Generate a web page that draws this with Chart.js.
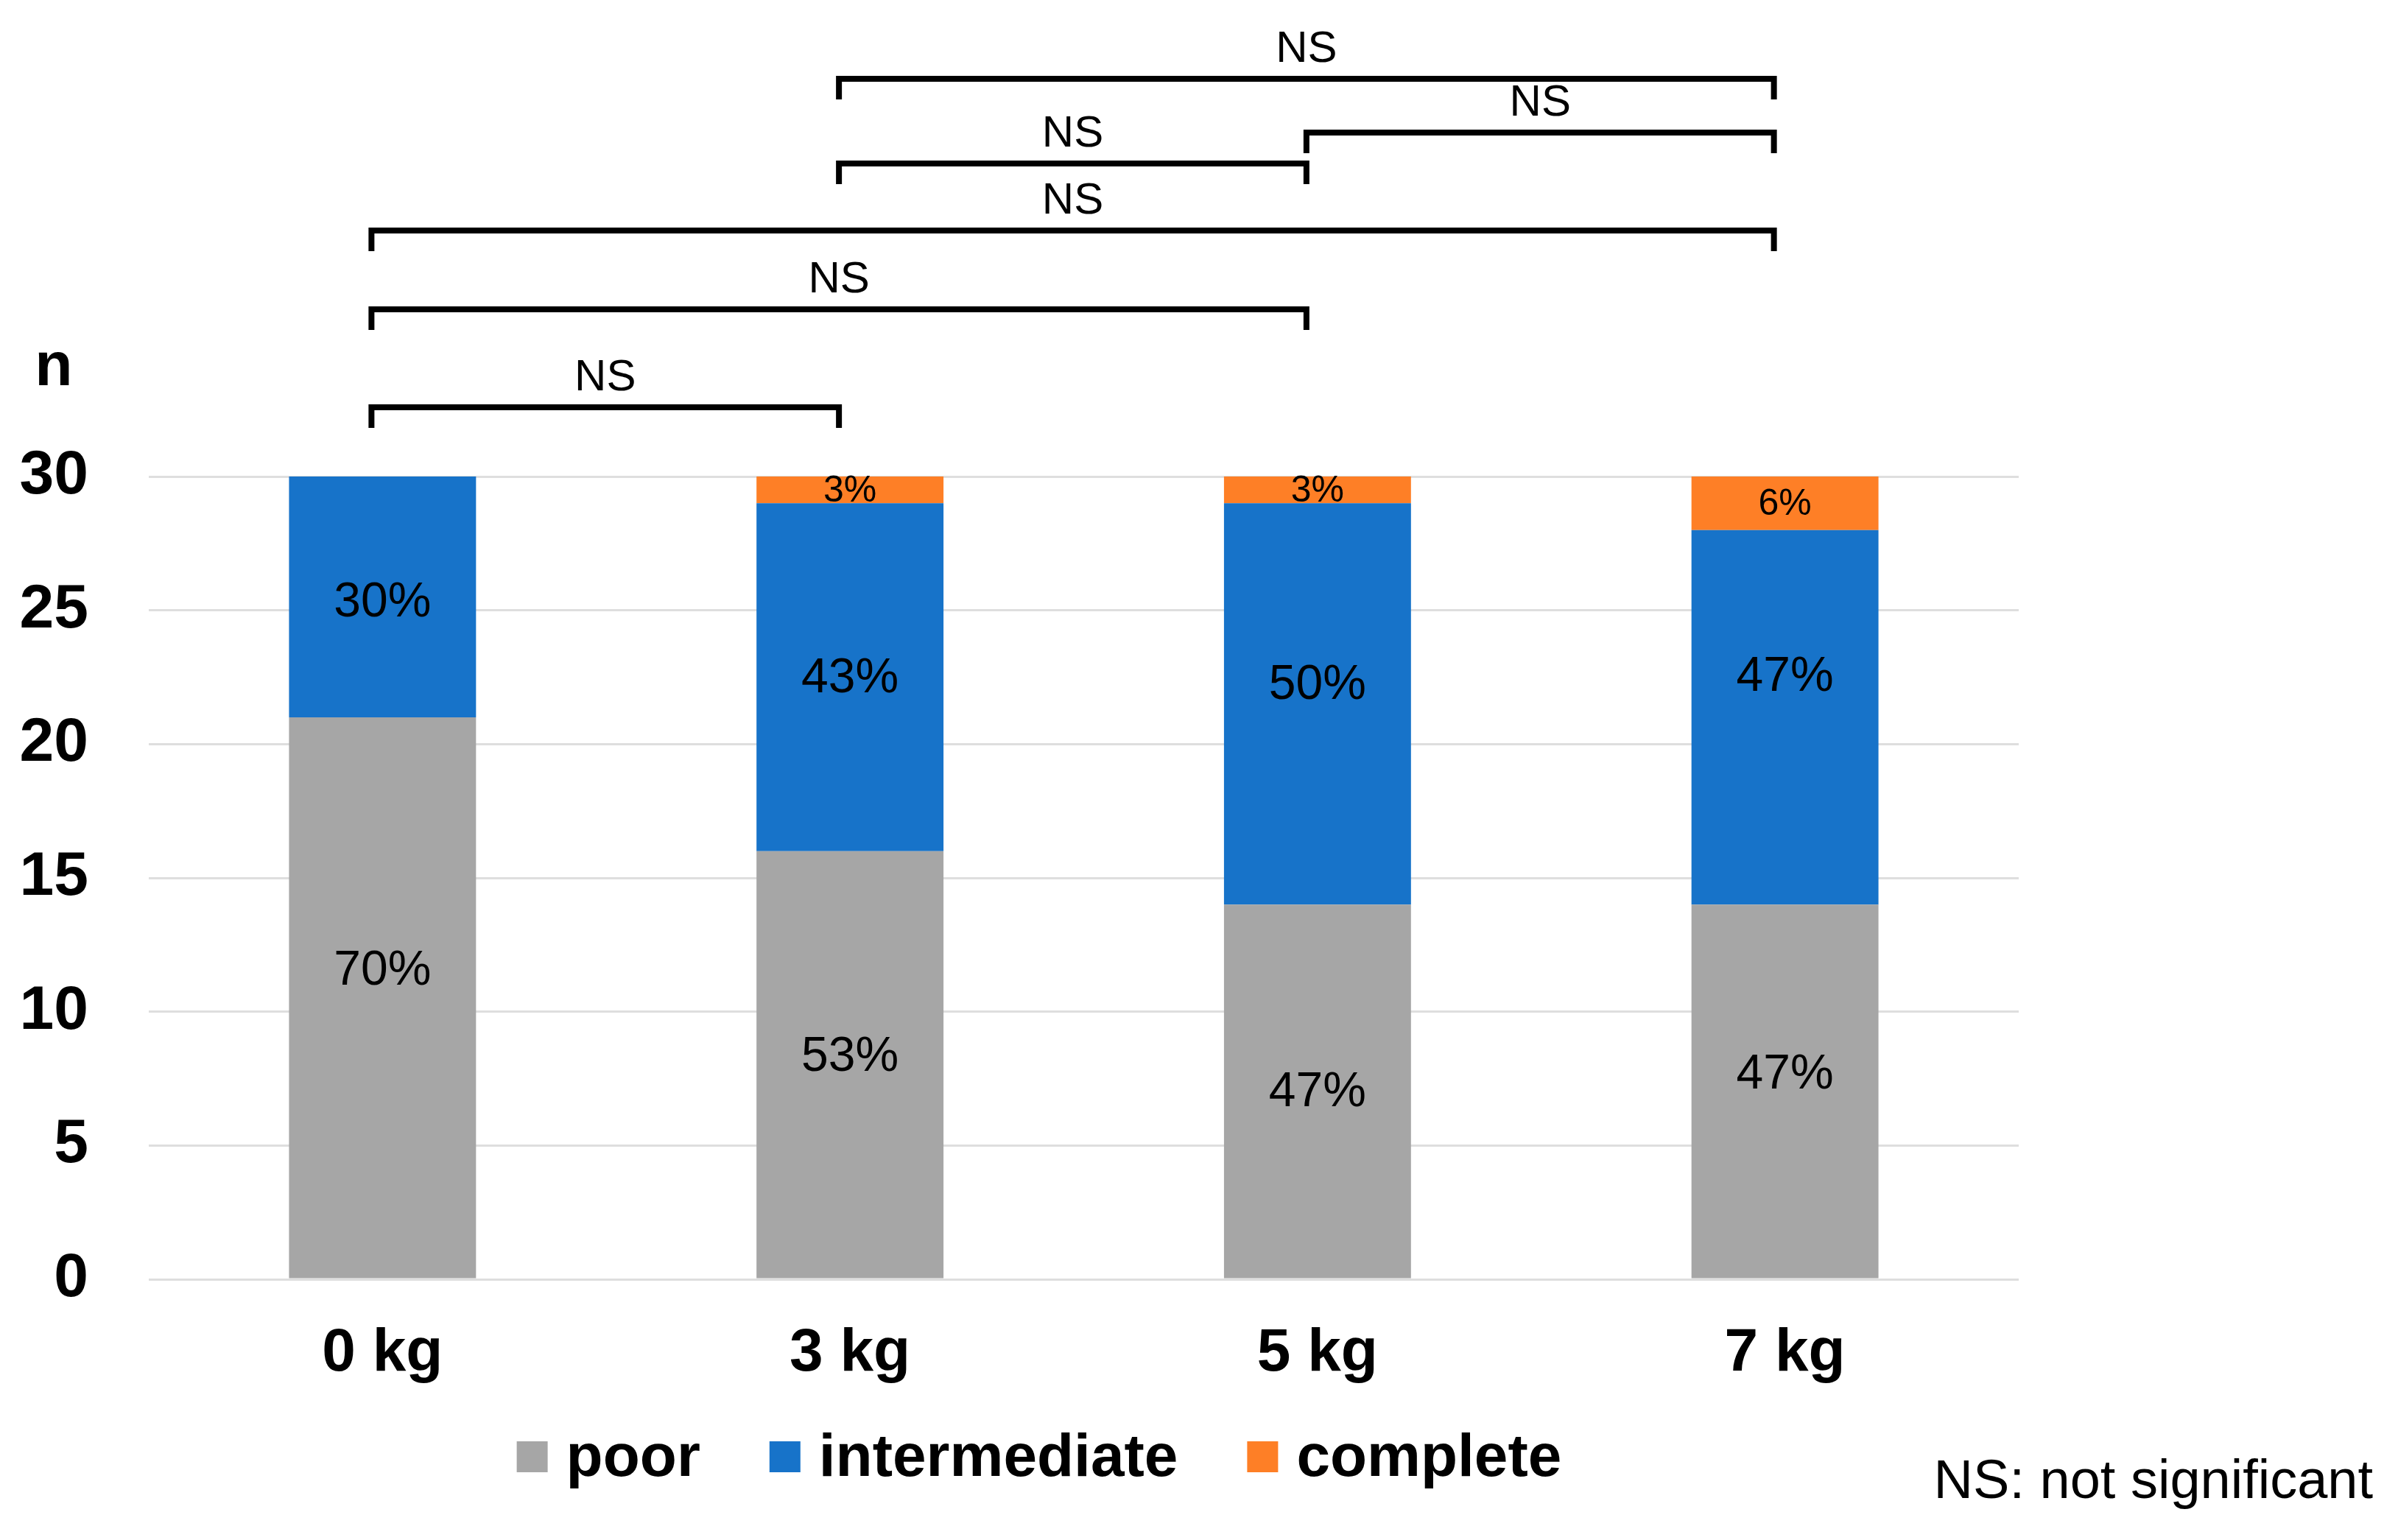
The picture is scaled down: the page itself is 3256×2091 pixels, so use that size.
<!DOCTYPE html>
<html>
<head>
<meta charset="utf-8">
<script src="https://cdn.jsdelivr.net/npm/chart.js@4.4.1/dist/chart.umd.min.js"></script>
<style>
  html, body { margin: 0; padding: 0; background: #fff; overflow: hidden; }
  canvas { display: block; }
</style>
</head>
<body>
<canvas id="chart" width="3256" height="2091" style="width:3256px;height:2091px"></canvas>
<script>
'use strict';

// data
const categories = ['0 kg', '3 kg', '5 kg', '7 kg'];
const seriesNames = ['poor', 'intermediate', 'complete'];
const poor = [21, 16, 14, 14];
const intermediate = [9, 13, 15, 14];
const complete = [0, 1, 1, 2];
const poorLabels = ['70%', '53%', '47%', '47%'];
const intermediateLabels = ['30%', '43%', '50%', '47%'];
const completeLabels = ['', '3%', '3%', '6%'];
const yTicks = [0, 5, 10, 15, 20, 25, 30];
const bracketPairs = [[1, 3], [2, 3], [1, 2], [0, 3], [0, 2], [0, 1]];
const bracketText = ['NS', 'NS', 'NS', 'NS', 'NS', 'NS'];
const footnote = 'NS: not significant';
const yAxisTitle = 'n';

// colours
const greyColor = '#A6A6A6',
  blueColor = '#1773C9',
  orangeColor = '#FE7F26',
  gridColor = '#DEDEDE',
  textColor = '#000000';

const fontFamily = '"Liberation Sans", Arial, sans-serif';

// percent labels inside each segment (labels were nudged by hand in the original)
const segmentLabels = {
  id: 'segmentLabels',
  afterDatasetsDraw(chart, args, opts) {
    const ctx = chart.ctx;
    ctx.save();
    ctx.fillStyle = textColor;
    ctx.textAlign = 'center';
    ctx.textBaseline = 'middle';
    chart.data.datasets.forEach(function (ds, di) {
      const meta = chart.getDatasetMeta(di);
      const nudge = opts.nudgeY[di];
      ctx.font = opts.sizes[di] + 'px ' + fontFamily;
      meta.data.forEach(function (bar, i) {
        const txt = ds.segLabels[i];
        if (!txt || !ds.data[i]) return;
        ctx.fillText(txt, bar.x, (bar.y + bar.base) / 2 + 2 + nudge[i]);
      });
    });
    ctx.restore();
  }
};

// significance brackets, axis title, legend row and footnote
const extras = {
  id: 'extras',
  afterDraw(chart, args, opts) {
    const ctx = chart.ctx;
    const x = chart.scales.x;
    const top = chart.chartArea.top;
    ctx.save();

    // brackets
    ctx.strokeStyle = textColor;
    ctx.lineWidth = 8;
    ctx.lineJoin = 'miter';
    ctx.lineCap = 'butt';
    ctx.fillStyle = textColor;
    ctx.font = '60px ' + fontFamily;
    ctx.textAlign = 'center';
    ctx.textBaseline = 'middle';
    bracketPairs.forEach(function (p, k) {
      const x1 = x.getPixelForValue(p[0]) - opts.bracketShift;
      const x2 = x.getPixelForValue(p[1]) - opts.bracketShift;
      const y = top - opts.bracketRise[k];
      ctx.beginPath();
      ctx.moveTo(x1, y + opts.bracketTick);
      ctx.lineTo(x1, y);
      ctx.lineTo(x2, y);
      ctx.lineTo(x2, y + opts.bracketTick);
      ctx.stroke();
      ctx.fillText(bracketText[k], (x1 + x2) / 2, y - 40);
    });

    // "n" above the y axis
    ctx.font = 'bold 84px ' + fontFamily;
    ctx.fillText(yAxisTitle, 73, 500);

    // legend
    ctx.font = 'bold 82px ' + fontFamily;
    const box = 42, gap = 25, spacing = 94;
    const widths = chart.data.datasets.map(function (ds) {
      return box + gap + ctx.measureText(ds.label).width;
    });
    const total = widths.reduce(function (a, b) { return a + b; }, 0) + spacing * (widths.length - 1);
    let lx = opts.legendCenter - total / 2;
    const ly = opts.legendY;
    ctx.textAlign = 'left';
    chart.data.datasets.forEach(function (ds, i) {
      ctx.fillStyle = ds.backgroundColor;
      ctx.fillRect(lx, ly - box / 2, box, box);
      ctx.fillStyle = textColor;
      ctx.fillText(ds.label, lx + box + gap, ly + 3);
      lx += widths[i] + spacing;
    });

    // footnote
    ctx.font = '74px ' + fontFamily;
    ctx.textAlign = 'right';
    ctx.fillText(footnote, 3222, 2014);
    ctx.restore();
  }
};

const ctx = document.getElementById('chart');
new Chart(ctx, {
  type: 'bar',
  data: {
    labels: categories,
    datasets: [
      { label: seriesNames[0], data: poor, segLabels: poorLabels, backgroundColor: greyColor },
      { label: seriesNames[1], data: intermediate, segLabels: intermediateLabels, backgroundColor: blueColor },
      { label: seriesNames[2], data: complete, segLabels: completeLabels, backgroundColor: orangeColor }
    ]
  },
  options: {
    responsive: false,
    devicePixelRatio: 1,
    animation: false,
    layout: {
      padding: { left: 0, right: 515, top: 647, bottom: 154 }
    },
    datasets: {
      bar: {
        categoryPercentage: 0.8,
        barPercentage: 0.5,
        borderWidth: 0
      }
    },
    plugins: {
      legend: { display: false },
      tooltip: { enabled: false },
      segmentLabels: {
        sizes: [66, 66, 50],
        nudgeY: [[-38, -12, 0, -24], [6, 0, -27, -56], [0, 0, 0, 0]]
      },
      extras: {
        bracketShift: 15,
        bracketTick: 28,
        bracketRise: [540, 467, 425, 334, 227, 94],
        legendCenter: 1411,
        legendY: 1978
      }
    },
    scales: {
      x: {
        stacked: true,
        grid: { display: false, drawTicks: false },
        border: { display: false },
        ticks: {
          color: textColor,
          padding: 52,
          font: { family: fontFamily, size: 82, weight: 'bold' }
        },
        afterFit(scale) {
          scale.height = 200;
          scale.paddingLeft = 0;
          scale.paddingRight = 0;
        }
      },
      y: {
        stacked: true,
        min: 0,
        max: 30,
        afterBuildTicks(scale) {
          scale.ticks = yTicks.map(function (v) { return { value: v }; });
        },
        grid: { color: gridColor, lineWidth: 3, drawTicks: false },
        border: { display: false },
        ticks: {
          color: textColor,
          padding: 82,
          font: { family: fontFamily, size: 84, weight: 'bold' }
        },
        afterFit(scale) {
          scale.width = 202;
          scale.paddingTop = 0;
          scale.paddingBottom = 0;
        }
      }
    }
  },
  plugins: [segmentLabels, extras]
});
</script>
</body>
</html>
